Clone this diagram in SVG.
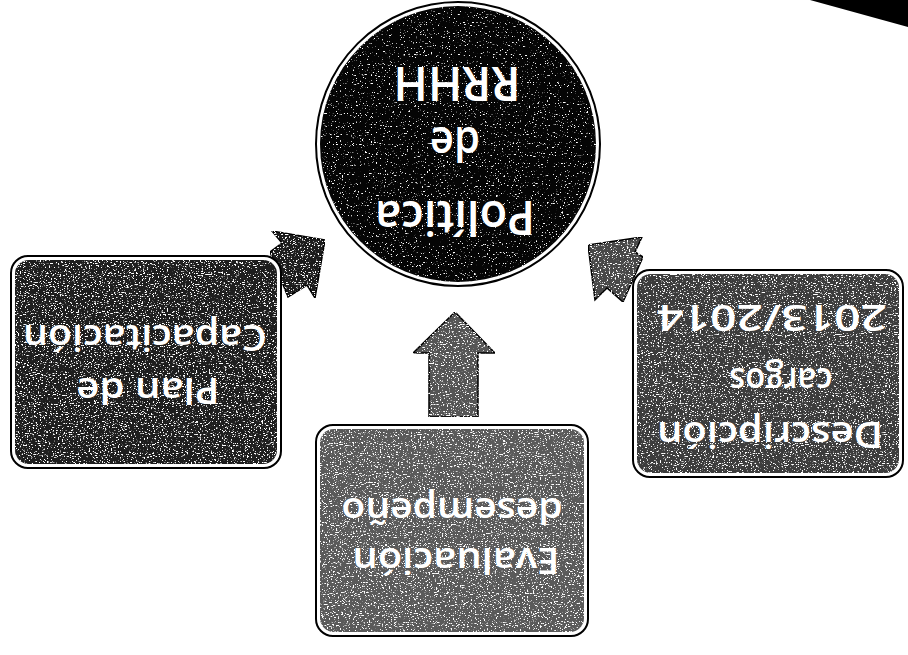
<svg xmlns="http://www.w3.org/2000/svg" width="908" height="655" viewBox="0 0 908 655">
  <defs>
    <filter id="grain" x="0" y="0" width="100%" height="100%" color-interpolation-filters="sRGB">
      <feTurbulence type="fractalNoise" baseFrequency="0.55 0.9" numOctaves="2" seed="7" result="n"/>
      <feColorMatrix in="n" type="matrix" values="0 0 0 0 1  0 0 0 0 1  0 0 0 0 1  0 0 0 10 -5.9" result="spk"/>
      <feComposite in="spk" in2="SourceGraphic" operator="in" result="s2"/>
      <feMerge><feMergeNode in="SourceGraphic"/><feMergeNode in="s2"/></feMerge>
    </filter>
    <filter id="grainLight" x="0" y="0" width="100%" height="100%" color-interpolation-filters="sRGB">
      <feTurbulence type="fractalNoise" baseFrequency="0.55 0.9" numOctaves="2" seed="11" result="n"/>
      <feColorMatrix in="n" type="matrix" values="0 0 0 0 1  0 0 0 0 1  0 0 0 0 1  0 0 0 10 -6.5" result="spk"/>
      <feComposite in="spk" in2="SourceGraphic" operator="in" result="s2"/>
      <feMerge><feMergeNode in="SourceGraphic"/><feMergeNode in="s2"/></feMerge>
    </filter>
  </defs>
  <style>
    .lbl { font-family: "Open Sans", "Liberation Sans", sans-serif; font-weight: 600; fill: #ffffff; text-anchor: middle; }
    .c { font-size: 47px; }
    .b { font-size: 36px; }
    .outer { fill: #ffffff; stroke: #000000; stroke-width: 2; }
    .arrow { stroke: #000000; stroke-width: 1.5; stroke-linejoin: miter; filter: url(#grain); }
    .fill { filter: url(#grain); }
    .fillLight { filter: url(#grainLight); }
  </style>
  <rect x="0" y="0" width="908" height="655" fill="#ffffff"/>
  <polygon points="810,0 908,0 908,27" fill="#000000"/>

  <g id="connectors">
    <polygon class="arrow" fill="#1c1c1c" points="325,240 272,231 282,243 270,252 288,297 307,285 315,298"/>
    <polygon class="arrow" fill="#555555" points="455,312 495,353 478,353 478,417 429,417 429,353 413,353"/>
    <polygon class="arrow" fill="#484848" points="588,245 642,237 635,252 643,257 623,302 607,288 595,300"/>
  </g>

  <g id="node-politica">
    <circle cx="458" cy="144" r="142" fill="#ffffff" stroke="#000000" stroke-width="2"/>
    <circle class="fillLight" cx="458" cy="144" r="138" fill="#050505"/>
    <text class="lbl c" x="455" y="201" transform="rotate(180 455 201)" textLength="160" lengthAdjust="spacingAndGlyphs">Política</text>
    <text class="lbl c" x="455" y="127" transform="rotate(180 455 127)" textLength="50" lengthAdjust="spacingAndGlyphs">de</text>
    <text class="lbl c" x="457" y="67" transform="rotate(180 457 67)" textLength="127" lengthAdjust="spacingAndGlyphs">RRHH</text>
  </g>

  <g id="node-plan">
    <rect class="outer" x="11" y="256" width="270" height="212" rx="17"/>
    <rect class="fill" x="15" y="260" width="262" height="204" rx="14" fill="#1e1e1e"/>
    <text class="lbl b" x="145" y="325" transform="rotate(180 145 325)" textLength="244" lengthAdjust="spacingAndGlyphs">Capacitación</text>
    <text class="lbl b" x="148" y="378" transform="rotate(180 148 378)" textLength="143" lengthAdjust="spacingAndGlyphs">Plan de</text>
  </g>

  <g id="node-evaluacion">
    <rect class="outer" x="316" y="425" width="272" height="211" rx="17"/>
    <rect class="fill" x="320" y="429" width="264" height="203" rx="14" fill="#5a5a5a"/>
    <text class="lbl b" x="452" y="498" transform="rotate(180 452 498)" textLength="221" lengthAdjust="spacingAndGlyphs">desempeño</text>
    <text class="lbl b" x="456" y="548" transform="rotate(180 456 548)" textLength="207" lengthAdjust="spacingAndGlyphs">Evaluación</text>
  </g>

  <g id="node-descripcion">
    <rect class="outer" x="633" y="270" width="270" height="207" rx="17"/>
    <rect class="fill" x="637" y="274" width="262" height="199" rx="14" fill="#3c3c3c"/>
    <text class="lbl b" x="772" y="305" transform="rotate(180 772 305)" textLength="230" lengthAdjust="spacingAndGlyphs">2013/2014</text>
    <text class="lbl b" x="781" y="368" transform="rotate(180 781 368)" textLength="103" lengthAdjust="spacingAndGlyphs">cargos</text>
    <text class="lbl b" x="770" y="422" transform="rotate(180 770 422)" textLength="226" lengthAdjust="spacingAndGlyphs">Descripción</text>
  </g>
</svg>
